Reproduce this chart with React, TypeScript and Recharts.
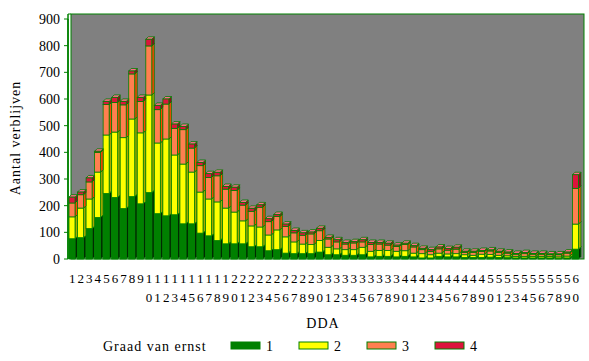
import React from 'react';
import { BarChart, Bar, XAxis, YAxis, ReferenceArea, Legend } from 'recharts';

const categories = ['1','2','3','4','5','6','7','8','9','10','11','12','13','14','15','16','17','18','19','20','21','22','23','24','25','26','27','28','29','30','31','32','33','34','35','36','37','38','39','40','41','42','43','44','45','46','47','48','49','50','51','52','53','54','55','56','57','58','59','60'];
const graad1 = [76,80,114,156,246,231,189,234,207,249,170,162,166,132,132,97,87,69,57,57,57,46,46,31,35,22,20,20,20,26,16,16,14,14,16,8,10,10,8,10,8,4,4,10,8,8,6,6,6,7,6,5,4,4,4,4,4,3,4,37];
const graad2 = [82,111,111,170,219,245,266,291,266,366,265,288,224,224,194,154,138,145,134,119,86,78,74,59,74,61,44,36,34,43,28,22,21,21,28,21,22,22,21,21,14,16,12,12,11,12,10,8,12,10,8,7,6,6,6,6,5,5,7,94];
const graad3 = [52,50,64,74,114,111,123,169,118,184,125,131,100,129,90,99,81,98,71,81,59,55,74,50,50,39,34,33,40,37,31,26,21,25,20,25,24,20,18,23,23,15,13,16,14,17,9,11,10,13,11,10,8,10,8,8,7,8,11,134];
const graad4 = [22,10,15,4,12,19,13,11,15,25,16,19,16,12,15,12,14,13,10,12,10,11,9,11,8,9,9,9,7,9,6,8,6,5,8,8,6,7,5,5,5,5,6,7,6,7,4,4,4,4,4,4,3,4,3,3,3,3,4,51];
const yTicks = [0,100,200,300,400,500,600,700,800,900];
const seriesNames = ['1','2','3','4'];

const data = categories.map((c, i) => ({
  dda: c,
  g1: graad1[i],
  g2: graad2[i],
  g3: graad3[i],
  g4: graad4[i],
}));

const FONT = 'Liberation Serif';
const OUTLINE = '#008000';
const DX = 2.5;
const DY = 2.5;

const palette = [
  { front: '#008000', side: '#002a00', top: '#00a000' },
  { front: '#FFFF00', side: '#A8A800', top: '#FFFF80' },
  { front: '#FF7F50', side: '#FF4500', top: '#FFA080' },
  { front: '#DC143C', side: '#9A0020', top: '#FF6A8A' },
];

const make3D = (c: { front: string; side: string; top: string }) => (props: any) => {
  const { x, y, width, height } = props;
  if (!height || height <= 0) return <g />;
  const r = x + width;
  const b = y + height;
  return (
    <g>
      <polygon
        points={`${r},${y} ${r + DX},${y - DY} ${r + DX},${b - DY} ${r},${b}`}
        fill={c.side}
        stroke={OUTLINE}
        strokeWidth={0.8}
      />
      <polygon
        points={`${x},${y} ${x + DX},${y - DY} ${r + DX},${y - DY} ${r},${y}`}
        fill={c.top}
        stroke={OUTLINE}
        strokeWidth={0.8}
      />
      <rect x={x} y={y} width={width} height={height} fill={c.front} stroke={OUTLINE} strokeWidth={0.8} />
    </g>
  );
};

const XTick = (props: any) => {
  const { x, y, payload } = props;
  const s = String(payload.value);
  return (
    <g>
      <text x={x} y={y + 24} textAnchor="middle" fontSize={13} fontFamily={FONT} fill="#000">
        {s[0]}
      </text>
      {s.length > 1 && (
        <text x={x} y={y + 43} textAnchor="middle" fontSize={13} fontFamily={FONT} fill="#000">
          {s[1]}
        </text>
      )}
    </g>
  );
};

const Backdrop = (p: any) => {
  const { x, y, width, height } = p;
  return (
    <g>
      <rect x={x + 3} y={y - 5} width={width + 1} height={height + 5} fill="#808080" stroke={OUTLINE} strokeWidth={1} />
      <line x1={x} y1={y - 5} x2={x + 3} y2={y - 5} stroke={OUTLINE} strokeWidth={1} />
      <line x1={x} y1={y - 5} x2={x} y2={y + height} stroke={OUTLINE} strokeWidth={1.5} />
    </g>
  );
};

const legendX = [231, 299, 367, 435];

const LegendContent = (props: any) => {
  const payload = props.payload || [];
  return (
    <svg width={589} height={24}>
      <text x={103} y={15} fontSize={14} fontFamily={FONT} letterSpacing={1} fill="#000">
        Graad van ernst
      </text>
      {payload.map((e: any, i: number) => (
        <g key={i}>
          <rect
            x={legendX[i]}
            y={6}
            width={29}
            height={7}
            fill={palette[i].front}
            stroke={OUTLINE}
            strokeWidth={1}
          />
          <text x={legendX[i] + 35} y={15} fontSize={14} fontFamily={FONT} fill="#000">
            {e.value}
          </text>
        </g>
      ))}
    </svg>
  );
};

export default function App() {
  return (
    <div style={{ position: 'absolute', left: 0, top: 0, width: 589, height: 361, background: '#fff' }}>
      <BarChart
        width={589}
        height={361}
        data={data}
        margin={{ top: 19, right: 9, left: 0, bottom: 0 }}
        barSize={6}
      >
        <ReferenceArea y1={0} y2={900} ifOverflow="visible" shape={Backdrop} zIndex={-100} />
        <XAxis
          dataKey="dda"
          interval={0}
          height={102}
          tickLine={false}
          axisLine={false}
          tickSize={0}
          tickMargin={0}
          tick={<XTick />}
          label={(lp: any) => (
            <text x={323} y={328} textAnchor="middle" fontSize={14} fontFamily={FONT} letterSpacing={1} fill="#000">
              DDA
            </text>
          )}
        />
        <YAxis
          width={68}
          domain={[0, 900]}
          ticks={yTicks}
          interval={0}
          axisLine={{ stroke: OUTLINE, strokeWidth: 1.5 }}
          tickLine={{ stroke: OUTLINE }}
          tickSize={4}
          tickMargin={4}
          tick={{ fontSize: 14, fontFamily: FONT, fill: '#000' }}
          label={(lp: any) => (
            <text
              x={20}
              y={138}
              transform="rotate(-90 20 138)"
              textAnchor="middle"
              fontSize={14}
              fontFamily={FONT}
              letterSpacing={1}
              fill="#000"
            >
              Aantal verblijven
            </text>
          )}
        />
        <Legend
          layout="horizontal"
          verticalAlign="middle"
          align="center"
          content={<LegendContent />}
          wrapperStyle={{ top: 336, left: 0, width: 589, height: 24 }}
        />
        <Bar dataKey="g1" name={seriesNames[0]} stackId="a" fill={palette[0].front} shape={make3D(palette[0])} isAnimationActive={false} />
        <Bar dataKey="g2" name={seriesNames[1]} stackId="a" fill={palette[1].front} shape={make3D(palette[1])} isAnimationActive={false} />
        <Bar dataKey="g3" name={seriesNames[2]} stackId="a" fill={palette[2].front} shape={make3D(palette[2])} isAnimationActive={false} />
        <Bar dataKey="g4" name={seriesNames[3]} stackId="a" fill={palette[3].front} shape={make3D(palette[3])} isAnimationActive={false} />
      </BarChart>
    </div>
  );
}
